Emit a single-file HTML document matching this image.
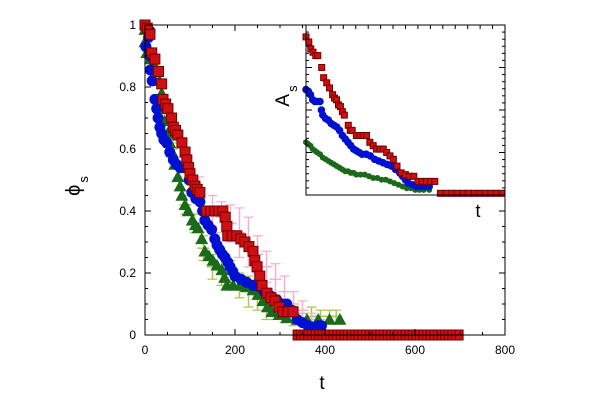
<!DOCTYPE html>
<html><head><meta charset="utf-8"><style>
body{margin:0;background:#fff;}
svg{display:block;font-family:"Liberation Sans","DejaVu Sans",sans-serif;}
</style></head><body>
<svg id="chart" width="615" height="413"></svg>
<script>
// ---------- main plot data ----------
const redT=[0,5,11,15,22,30,37,40,46,51,59,63,68,73,82,89,93,97,100,106,111,116,122,137,146,155,164,173,178,182,184,194,204,213,222,231,240,244,249,255,260,271,280,289,298,307,318,329];
const redV=[1.0,0.99,0.97,0.91,0.89,0.85,0.81,0.76,0.745,0.73,0.70,0.67,0.66,0.645,0.62,0.59,0.565,0.54,0.52,0.50,0.48,0.47,0.46,0.40,0.40,0.40,0.40,0.40,0.38,0.35,0.32,0.32,0.32,0.31,0.30,0.285,0.27,0.24,0.22,0.19,0.16,0.135,0.12,0.11,0.09,0.075,0.075,0.075];
const redZeroStart=338, redZeroEnd=700;
const blueT=[2,8,11,11,12,16,22,26,29,33,37,42,48,55,63,70,78,86,93,98,104,113,122,128,133,140,148,155,160,166,172,178,184,189,195,200,213,226,240,255,265,280,293,305,315,326,338,350,362,373,385,392];
const blueV=[0.93,0.96,0.98,0.90,0.855,0.82,0.76,0.73,0.70,0.67,0.65,0.63,0.62,0.59,0.565,0.55,0.54,0.54,0.54,0.50,0.46,0.44,0.43,0.40,0.37,0.355,0.34,0.31,0.29,0.275,0.26,0.25,0.235,0.22,0.205,0.19,0.18,0.17,0.16,0.155,0.14,0.125,0.113,0.10,0.10,0.08,0.05,0.04,0.03,0.026,0.03,0.03];
const greenT=[0,0,4,12,20,27,32,37,40,44,50,55,60,66,73,78,82,89,96,105,112,118,126,133,142,151,160,171,177,182,196,211,225,240,251,262,272,282,298,315,338,360,385,410,433];
const greenV=[0.985,0.945,0.91,0.89,0.87,0.855,0.82,0.78,0.73,0.69,0.65,0.62,0.59,0.55,0.51,0.48,0.45,0.42,0.40,0.37,0.355,0.345,0.31,0.27,0.255,0.24,0.225,0.21,0.185,0.16,0.16,0.16,0.155,0.145,0.13,0.11,0.09,0.075,0.065,0.055,0.05,0.05,0.05,0.05,0.05];
const pinkT=[60,90,120,150,170,190,210,230,250,270,290,310,330,350,370,390];
const pinkV=[0.66,0.56,0.47,0.40,0.38,0.36,0.33,0.30,0.26,0.22,0.18,0.14,0.10,0.08,0.05,0.03];
const pinkE=[0.02,0.03,0.04,0.05,0.05,0.06,0.08,0.08,0.06,0.05,0.05,0.05,0.04,0.03,0.02,0.02];
const lgT=[60,90,110,130,150,170,190,210,230,250,270,290,310,330,350,370,390,410,425];
const lgV=[0.60,0.42,0.36,0.28,0.22,0.21,0.20,0.16,0.14,0.13,0.10,0.09,0.07,0.06,0.05,0.06,0.06,0.06,0.06];
const lgE=[0.02,0.03,0.03,0.04,0.04,0.05,0.04,0.04,0.05,0.05,0.05,0.04,0.03,0.03,0.02,0.03,0.02,0.02,0.02];
const xTicks=[0,200,400,600,800];
const yTicks=[0,0.2,0.4,0.6,0.8,1];
const yTickLabels=["0","0.2","0.4","0.6","0.8","1"];
// ---------- inset data ----------
const inRedT=[0,10,17,25,35,42,56,63,74,84,95,102,109,116,123,130,137,151,158,165,180,192,204,216,228,240,252,264,276,288,300,312,325,340,355,370,385,400,415,430,445,460,480,500,520,540,560,580,600,620,640,660,680,700];
const inRedV=[0.93,0.90,0.86,0.84,0.82,0.82,0.75,0.69,0.66,0.63,0.59,0.57,0.56,0.53,0.52,0.49,0.47,0.41,0.38,0.38,0.35,0.35,0.35,0.35,0.31,0.29,0.27,0.27,0.27,0.25,0.23,0.21,0.17,0.13,0.12,0.11,0.11,0.08,0.08,0.08,0.08,0.08,0.01,0.01,0.01,0.01,0.01,0.01,0.01,0.01,0.01,0.01,0.01,0.01];
const inBlueT=[0,8,16,24,32,40,50,55,60,70,80,90,100,110,120,130,140,150,160,170,180,190,200,215,230,245,260,275,290,305,320,335,345,355,365,380,395,410,425,440];
const inBlueV=[0.62,0.61,0.59,0.56,0.55,0.55,0.55,0.50,0.47,0.45,0.44,0.42,0.41,0.40,0.38,0.35,0.33,0.31,0.29,0.27,0.26,0.25,0.24,0.24,0.23,0.21,0.20,0.19,0.18,0.17,0.15,0.13,0.11,0.09,0.07,0.06,0.05,0.05,0.05,0.05];
const inGreenT=[0,8,16,24,32,40,50,60,70,80,90,100,110,120,130,140,150,160,170,180,195,210,225,240,255,270,285,300,315,330,345,360,375,390,405,420,440];
const inGreenV=[0.31,0.30,0.29,0.27,0.26,0.25,0.24,0.22,0.21,0.20,0.19,0.18,0.17,0.16,0.15,0.14,0.14,0.13,0.13,0.12,0.12,0.12,0.11,0.10,0.10,0.09,0.09,0.08,0.07,0.06,0.05,0.04,0.04,0.03,0.03,0.03,0.03];

const NS="http://www.w3.org/2000/svg";
const svg=document.getElementById('chart');
function mk(tag,attrs,parent){const e=document.createElementNS(NS,tag);for(const k in attrs)e.setAttribute(k,attrs[k]);(parent||svg).appendChild(e);return e;}
const X0=145,X1=505,Y0=335,Y1=25;
const sx=t=>X0+(t/800)*(X1-X0);
const sy=v=>Y0-v*(Y0-Y1);
const IX0=306,IX1=505,IY0=195,IY1=25;
const isx=t=>IX0+(t/700)*(IX1-IX0-3);
const isy=v=>IY0-v*(IY0-IY1);

const gMain=mk('g',{});



function errSeries(T,V,E,color,name){
  const g=mk('g',{},gMain);
  
  
  for(let i=0;i<T.length;i++){
    const x=sx(T[i]),y=sy(V[i]),e=E[i]*(Y0-Y1);
    mk('line',{x1:x,x2:x,y1:y-e,y2:y+e,stroke:color,'stroke-width':1.5},g);
    mk('line',{x1:x-5,x2:x+5,y1:y-e,y2:y-e,stroke:color,'stroke-width':1.2},g);
    mk('line',{x1:x-5,x2:x+5,y1:y+e,y2:y+e,stroke:color,'stroke-width':1.2},g);
    mk('line',{x1:x-6,x2:x+6,y1:y,y2:y,stroke:color,'stroke-width':1.5},g);
  }
}
errSeries(lgT,lgV,lgE,'#a8c64a','light-green-error-series');
errSeries(pinkT,pinkV,pinkE,'#f0b0d0','pink-error-series');

function squares(T,V,fx,fy,s,parent,name){
  const g=mk('g',{},parent);
  
  
  for(let i=0;i<T.length;i++){
    mk('rect',{x:fx(T[i])-s/2,y:fy(V[i])-s/2,width:s,height:s,fill:'#d01010',stroke:'#700000','stroke-width':1},g);
  }
  return g;
}
function circles(T,V,fx,fy,r,color,parent,name){
  const g=mk('g',{},parent);
  
  
  for(let i=0;i<T.length;i++) mk('circle',{cx:fx(T[i]),cy:fy(V[i]),r:r,fill:color},g);
  return g;
}
function tris(T,V,fx,fy,s,parent,name){
  const g=mk('g',{},parent);
  
  
  for(let i=0;i<T.length;i++){const x=fx(T[i]),y=fy(V[i]);
    mk('polygon',{points:`${x},${y-s} ${x-s},${y+s*0.8} ${x+s},${y+s*0.8}`,fill:'#1a6a1a'},g);}
  return g;
}
tris(greenT,greenV,sx,sy,6.5,gMain,'green-triangle-series');
circles(blueT,blueV,sx,sy,5.5,'#0010d0',gMain,'blue-circle-series');
const rg=squares(redT,redV,sx,sy,10,gMain,'red-square-series');
for(let t=redZeroStart;t<=redZeroEnd;t+=8){
  mk('rect',{x:sx(t)-4,y:sy(0)-5,width:8,height:10,fill:'#d01010',stroke:'#700000','stroke-width':1},rg);
}

const frame=mk('rect',{x:X0,y:Y1,width:X1-X0,height:Y0-Y1,fill:'none',stroke:'#000','stroke-width':1});


for(let t=0;t<=800;t+=50){const x=sx(t),L=(t%200===0)?6:3;
  mk('line',{x1:x,x2:x,y1:Y0,y2:Y0-L,stroke:'#000'});mk('line',{x1:x,x2:x,y1:Y1,y2:Y1+L,stroke:'#000'});}
for(let k=0;k<=20;k++){const v=k*0.05,y=sy(v),L=(k%4===0)?6:3;
  mk('line',{x1:X0,x2:X0+L,y1:y,y2:y,stroke:'#000'});mk('line',{x1:X1,x2:X1-L,y1:y,y2:y,stroke:'#000'});}
xTicks.forEach(t=>{const e=mk('text',{x:sx(t),y:Y0+19,'font-size':12,'text-anchor':'middle'});e.textContent=t;
  
  });
yTicks.forEach((v,i)=>{const e=mk('text',{x:X0-9,y:sy(v)+4,'font-size':12,'text-anchor':'end'});e.textContent=yTickLabels[i];
  
  });
const xt=mk('text',{x:322,y:389,'font-size':19,'text-anchor':'middle'});xt.textContent='t';


const yt=mk('text',{transform:'translate(80,186) rotate(-90)','font-size':20,'text-anchor':'middle'});
yt.innerHTML='ϕ<tspan font-size="13" dx="2" dy="8">s</tspan>';



const gIn=mk('g',{});


mk('rect',{x:IX0,y:IY1,width:IX1-IX0,height:IY0-IY1,fill:'#fff',stroke:'none'},gIn);
circles(inGreenT,inGreenV,isx,isy,3,'#1a6a1a',gIn,'inset-green-series');
circles(inBlueT,inBlueV,isx,isy,3.8,'#0010d0',gIn,'inset-blue-series');
squares(inRedT,inRedV,isx,isy,6,gIn,'inset-red-series');
const iframe=mk('rect',{x:IX0,y:IY1,width:IX1-IX0,height:IY0-IY1,fill:'none',stroke:'#000','stroke-width':1},gIn);


for(let k=0;k<=16;k++){const x=IX0+k*(IX1-IX0)/16;
  mk('line',{x1:x,x2:x,y1:IY1,y2:IY1+4,stroke:'#000'},gIn);}
for(let k=0;k<=24;k++){const y=IY0-k*(IY0-IY1)/24,L=(k%6===0)?6:3;
  mk('line',{x1:IX0,x2:IX0+L,y1:y,y2:y,stroke:'#000'},gIn);mk('line',{x1:IX1,x2:IX1-L,y1:y,y2:y,stroke:'#000'},gIn);}
const it=mk('text',{x:478,y:217,'font-size':18,'text-anchor':'middle'},gIn);it.textContent='t';


const iyt=mk('text',{transform:'translate(289,96) rotate(-90)','font-size':19,'text-anchor':'middle'},gIn);
iyt.innerHTML='A<tspan font-size="13" dx="2" dy="8">s</tspan>';


</script>
</body></html>
